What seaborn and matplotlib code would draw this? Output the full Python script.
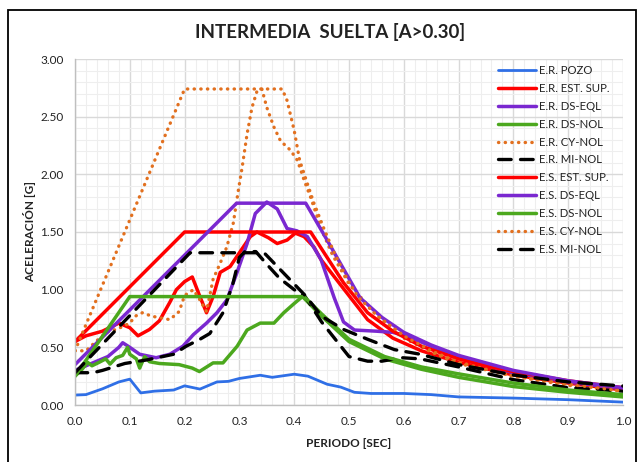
import matplotlib
matplotlib.use("Agg")
import matplotlib.pyplot as plt
import matplotlib.patches as mpatches
from matplotlib.ticker import MultipleLocator
import seaborn as sns

# ---- spectra: period [s] and spectral acceleration [g] ----
er_pozo_t = [0, 0.02, 0.05, 0.08, 0.1, 0.12, 0.145, 0.18, 0.2, 0.228, 0.259, 0.28, 0.30,
             0.338, 0.36, 0.40, 0.425, 0.46, 0.485, 0.51, 0.54, 0.6, 0.65, 0.7, 0.8, 0.9, 1.0]
er_pozo_a = [0.086, 0.09, 0.14, 0.2, 0.224, 0.105, 0.12, 0.13, 0.166, 0.138, 0.20, 0.205, 0.23,
             0.258, 0.24, 0.267, 0.25, 0.18, 0.155, 0.11, 0.10, 0.10, 0.09, 0.07, 0.06, 0.046, 0.025]

er_est_t = [0, 0.02, 0.05, 0.08, 0.1, 0.115, 0.136, 0.154, 0.173, 0.185, 0.2, 0.214, 0.228, 0.24,
            0.252, 0.265, 0.283, 0.30, 0.32, 0.332, 0.353, 0.369, 0.387, 0.402, 0.418, 0.436,
            0.449, 0.48, 0.534, 0.58, 0.632, 0.7, 0.8, 0.9, 1.0]
er_est_a = [0.55, 0.6, 0.64, 0.71, 0.67, 0.60, 0.655, 0.73, 0.89, 1.0, 1.07, 1.11, 0.94, 0.80,
            0.94, 1.15, 1.20, 1.32, 1.46, 1.50, 1.45, 1.40, 1.43, 1.49, 1.46, 1.37,
            1.26, 1.07, 0.74, 0.58, 0.47, 0.37, 0.26, 0.19, 0.13]

er_dseql_t = [0, 0.03, 0.06, 0.08, 0.087, 0.1, 0.118, 0.148, 0.173, 0.197, 0.216, 0.24, 0.259,
              0.277, 0.295, 0.314, 0.329, 0.35, 0.369, 0.387, 0.405, 0.424, 0.449, 0.473,
              0.49, 0.51, 0.55, 0.58, 0.61, 0.65, 0.7, 0.8, 0.9, 1.0]
er_dseql_a = [0.30, 0.36, 0.42, 0.50, 0.54, 0.50, 0.44, 0.41, 0.44, 0.51, 0.61, 0.71, 0.80,
              0.91, 1.14, 1.40, 1.66, 1.76, 1.70, 1.53, 1.51, 1.46, 1.26, 0.93,
              0.72, 0.65, 0.64, 0.63, 0.59, 0.51, 0.41, 0.28, 0.20, 0.14]

er_dsnol_t = [0, 0.013, 0.023, 0.031, 0.044, 0.056, 0.064, 0.075, 0.087, 0.096, 0.1, 0.112,
              0.118, 0.127, 0.136, 0.154, 0.19, 0.214, 0.227, 0.252, 0.27, 0.296, 0.314,
              0.338, 0.363, 0.381, 0.40, 0.415, 0.45, 0.5, 0.565, 0.632, 0.7, 0.8, 0.9, 1.0]
er_dsnol_a = [0.25, 0.31, 0.37, 0.34, 0.37, 0.40, 0.355, 0.41, 0.43, 0.50, 0.44, 0.40,
              0.32, 0.42, 0.375, 0.36, 0.35, 0.32, 0.29, 0.365, 0.365, 0.51, 0.65,
              0.71, 0.71, 0.80, 0.88, 0.94, 0.77, 0.55, 0.40, 0.31, 0.24, 0.16, 0.11, 0.07]

er_cynol_t = [0, 0.02, 0.038, 0.05, 0.062, 0.075, 0.087, 0.1, 0.11, 0.123, 0.14, 0.173, 0.19,
              0.2, 0.216, 0.228, 0.24, 0.252, 0.265, 0.277, 0.289, 0.298, 0.305, 0.314, 0.323,
              0.332, 0.341, 0.35, 0.363, 0.375, 0.393, 0.406, 0.418, 0.43, 0.45, 0.47, 0.5,
              0.55, 0.6, 0.65, 0.7, 0.8, 0.9, 1.0]
er_cynol_a = [0.47, 0.47, 0.55, 0.60, 0.64, 0.655, 0.68, 0.71, 0.77, 0.80, 0.77, 0.74, 0.81,
              0.95, 1.0, 0.91, 0.81, 1.09, 1.23, 1.37, 1.58, 1.86, 2.06, 2.35, 2.58,
              2.72, 2.74, 2.58, 2.41, 2.29, 2.21, 2.12, 1.95, 1.80, 1.52, 1.30, 1.05,
              0.78, 0.58, 0.46, 0.36, 0.25, 0.17, 0.12]

er_minol_t = [0, 0.033, 0.05, 0.091, 0.13, 0.18, 0.203, 0.228, 0.246, 0.258, 0.27, 0.288,
              0.30, 0.31, 0.33, 0.35, 0.373, 0.40, 0.42, 0.45, 0.50, 0.534, 0.56, 0.596,
              0.63, 0.7, 0.8, 0.9, 1.0]
er_minol_a = [0.28, 0.28, 0.30, 0.36, 0.39, 0.44, 0.51, 0.57, 0.62, 0.71, 0.80, 1.05,
              1.28, 1.33, 1.33, 1.22, 1.10, 1.0, 0.94, 0.72, 0.42, 0.38, 0.38, 0.41,
              0.40, 0.33, 0.22, 0.15, 0.12]

es_est_t = [0, 0.2, 0.43, 0.46, 0.49, 0.534, 0.58, 0.632, 0.7, 0.75, 0.8, 0.9, 1.0]
es_est_a = [0.55, 1.50, 1.50, 1.28, 1.06, 0.80, 0.64, 0.51, 0.40, 0.34, 0.29, 0.21, 0.15]

es_dseql_t = [0, 0.295, 0.421, 0.46, 0.52, 0.56, 0.6, 0.65, 0.7, 0.8, 0.9, 1.0]
es_dseql_a = [0.35, 1.75, 1.75, 1.43, 0.93, 0.76, 0.63, 0.52, 0.43, 0.30, 0.21, 0.15]

es_dsnol_t = [0, 0.1, 0.418, 0.45, 0.5, 0.565, 0.632, 0.7, 0.8, 0.9, 1.0]
es_dsnol_a = [0.25, 0.94, 0.94, 0.79, 0.57, 0.42, 0.33, 0.27, 0.19, 0.13, 0.09]

es_cynol_t = [0, 0.2, 0.378, 0.387, 0.40, 0.41, 0.424, 0.436, 0.455, 0.473, 0.497, 0.516,
              0.55, 0.6, 0.65, 0.7, 0.8, 0.9, 1.0]
es_cynol_a = [0.47, 2.74, 2.74, 2.64, 2.38, 2.12, 1.92, 1.75, 1.52, 1.32, 1.09, 0.94,
              0.78, 0.60, 0.47, 0.37, 0.25, 0.18, 0.12]

es_minol_t = [0, 0.21, 0.345, 0.42, 0.45, 0.49, 0.534, 0.583, 0.63, 0.7, 0.8, 0.9, 1.0]
es_minol_a = [0.28, 1.32, 1.32, 0.95, 0.77, 0.655, 0.57, 0.48, 0.44, 0.35, 0.26, 0.20, 0.165]

x_ticks = [0.0, 0.1, 0.2, 0.3, 0.4, 0.5, 0.6, 0.7, 0.8, 0.9, 1.0]
y_ticks = [0.0, 0.5, 1.0, 1.5, 2.0, 2.5, 3.0]

BLUE, RED, PURPLE, GREEN, ORANGE, BLACK = "#2F6FE6", "#FF0000", "#7A28D0", "#4CA81E", "#E2701F", "#000000"
DOTS = (0, (0.1, 1.9))
DASH = (0, (3.8, 2.8))

series = [
    ("E.R. POZO", er_pozo_t, er_pozo_a, BLUE, "-", 2.0),
    ("E.R. EST. SUP.", er_est_t, er_est_a, RED, "-", 2.5),
    ("E.R. DS-EQL", er_dseql_t, er_dseql_a, PURPLE, "-", 2.5),
    ("E.R. DS-NOL", er_dsnol_t, er_dsnol_a, GREEN, "-", 2.5),
    ("E.R. CY-NOL", er_cynol_t, er_cynol_a, ORANGE, DOTS, 2.4),
    ("E.R. MI-NOL", er_minol_t, er_minol_a, BLACK, DASH, 2.4),
    ("E.S. EST. SUP.", es_est_t, es_est_a, RED, "-", 2.5),
    ("E.S. DS-EQL", es_dseql_t, es_dseql_a, PURPLE, "-", 2.5),
    ("E.S. DS-NOL", es_dsnol_t, es_dsnol_a, GREEN, "-", 2.5),
    ("E.S. CY-NOL", es_cynol_t, es_cynol_a, ORANGE, DOTS, 2.4),
    ("E.S. MI-NOL", es_minol_t, es_minol_a, BLACK, DASH, 2.4),
]

sns.set_style("white")
plt.rcParams["font.family"] = ["Lato", "DejaVu Sans"]

fig = plt.figure(figsize=(6.41, 4.62), dpi=100)
ax = fig.add_axes([75 / 641, 1 - 405 / 462, 548 / 641, 346 / 462])

for name, t, a, col, ls, lw in series:
    sns.lineplot(x=t, y=a, ax=ax, color=col, linestyle=ls, linewidth=lw, label=name,
                 sort=False, estimator=None, dash_capstyle="round", solid_capstyle="round")

ax.set_xlim(0, 1.0)
ax.set_ylim(0, 3.0)
ax.set_xticks(x_ticks)
ax.set_xticklabels([f"{v:.1f}" for v in x_ticks])
ax.set_yticks(y_ticks)
ax.set_yticklabels([f"{v:.2f}" for v in y_ticks])
ax.xaxis.set_minor_locator(MultipleLocator(0.02))
ax.yaxis.set_minor_locator(MultipleLocator(0.1))
ax.grid(which="major", color="#D9D9D9", linewidth=1.0)
ax.grid(which="minor", color="#EEEEEE", linewidth=0.8)
ax.set_axisbelow(True)
for s in ("top", "right"):
    ax.spines[s].set_visible(False)
for s in ("left", "bottom"):
    ax.spines[s].set_color("#BFBFBF")
    ax.spines[s].set_linewidth(1.0)
ax.tick_params(axis="both", which="major", labelsize=8.5, colors="#BFBFBF",
               labelcolor="#222222", length=4, width=1.0, pad=4)
ax.tick_params(axis="both", which="minor", length=0)

ax.set_xlabel("PERIODO [SEC]", fontsize=8.5, fontweight="bold", color="#222222", labelpad=8)
ax.set_ylabel("ACELERACIÓN [G]", fontsize=8.5, fontweight="bold", color="#222222", labelpad=3)

fig.text(330 / 641, 1 - 32 / 462, "INTERMEDIA  SUELTA [A>0.30]", ha="center", va="center",
         fontsize=13.5, fontweight="bold", color="#222222")

leg = ax.legend(loc="upper left", bbox_to_anchor=(0.763, 0.995), frameon=False,
                fontsize=8.2, handlelength=3.4, handletextpad=0.2, labelspacing=0.6,
                borderaxespad=0)
for txt in leg.get_texts():
    txt.set_color("#222222")

fig.patches.append(mpatches.Rectangle((8 / 641, -0.05), 628 / 641, 1 - 10 / 462 + 0.05,
                                      transform=fig.transFigure, fill=False,
                                      edgecolor="black", linewidth=1.3))

fig.savefig("out.png", dpi=100)
